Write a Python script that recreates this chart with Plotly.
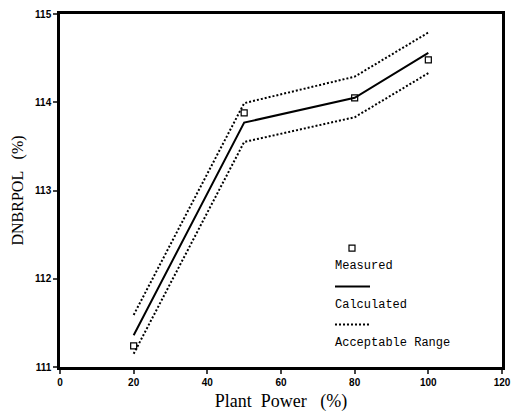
import plotly.graph_objects as go

power = [20, 50, 80, 100]
calculated = [111.36, 113.77, 114.05, 114.56]
upper = [111.59, 113.99, 114.29, 114.79]
lower = [111.15, 113.55, 113.83, 114.33]
measured = [111.24, 113.88, 114.05, 114.48]

x_ticks = [0, 20, 40, 60, 80, 100, 120]
y_ticks = [111, 112, 113, 114, 115]

fig = go.Figure()
dot = "2px,2px"
fig.add_trace(go.Scatter(x=power, y=upper, mode="lines",
                         line=dict(color="black", width=2, dash=dot), showlegend=False))
fig.add_trace(go.Scatter(x=power, y=lower, mode="lines",
                         line=dict(color="black", width=2, dash=dot), showlegend=False))
fig.add_trace(go.Scatter(x=power, y=calculated, mode="lines",
                         line=dict(color="black", width=2), showlegend=False))
fig.add_trace(go.Scatter(x=power, y=measured, mode="markers",
                         marker=dict(symbol="square-open", size=6, color="black",
                                     line=dict(width=1.2)), showlegend=False))

tickfont = dict(family="Liberation Sans", size=10, color="black", weight=700)
fig.update_xaxes(range=[0, 120], tickvals=x_ticks, ticks="outside", ticklen=4, tickwidth=2,
                 showline=True, linewidth=2.5, linecolor="black", mirror=True,
                 showgrid=False, zeroline=False, tickfont=tickfont, automargin=False,
                 title=dict(text="Plant  Power   (%)", standoff=8,
                            font=dict(family="Liberation Serif", size=18, color="black")))
fig.update_yaxes(range=[111, 115], tickvals=y_ticks, ticks="outside", ticklen=4, tickwidth=2,
                 showline=True, linewidth=2.5, linecolor="black", mirror=True,
                 showgrid=False, zeroline=False, tickfont=tickfont, automargin=False,
                 title=dict(text="DNBRPOL   (%)", standoff=8,
                            font=dict(family="Liberation Serif", size=16, color="black")))

# Legend drawn in paper coordinates
L, R, T, B = 60, 502, 13.6, 367
W, H = 513, 415
def px(x):
    return (x - L) / (R - L)
def py(y):
    return (B - y) / (B - T)

legfont = dict(family="Liberation Mono", size=12, color="black")
fig.add_shape(type="rect", xref="paper", yref="paper",
              x0=px(349), x1=px(355), y0=py(251), y1=py(245),
              line=dict(color="black", width=1.2))
fig.add_shape(type="line", xref="paper", yref="paper",
              x0=px(335), x1=px(370), y0=py(286.5), y1=py(286.5),
              line=dict(color="black", width=2))
fig.add_shape(type="line", xref="paper", yref="paper",
              x0=px(335), x1=px(370), y0=py(324.5), y1=py(324.5),
              line=dict(color="black", width=2, dash=dot))
for txt, yy in [("Measured", 266), ("Calculated", 304.5), ("Acceptable Range", 343)]:
    fig.add_annotation(text=txt, xref="paper", yref="paper", x=px(333), y=py(yy),
                       xanchor="left", yanchor="middle", showarrow=False, font=legfont)

fig.update_layout(width=W, height=H, margin=dict(l=L, r=W - R, t=T, b=H - B),
                  paper_bgcolor="white", plot_bgcolor="white")
fig.write_html("out.html", config={"displayModeBar": False},
               post_script="document.body.style.margin='0';")
